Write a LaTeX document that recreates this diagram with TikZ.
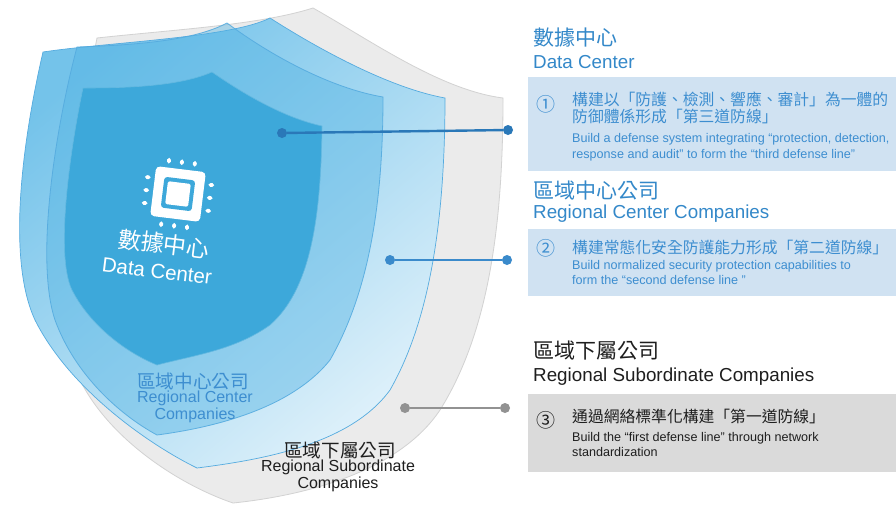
\documentclass[tikz,border=0pt]{standalone}
\usepackage{fontspec}
\setmainfont{Liberation Sans}
\newfontfamily\cjk{Noto Sans CJK TC}
\usetikzlibrary{calc}
\definecolor{coreblue}{HTML}{3DA8DA}
\definecolor{midblue}{HTML}{4FB2E3}
\definecolor{outertop}{HTML}{74C3EA}
\definecolor{outerbot}{HTML}{DDF0FA}
\definecolor{rimblue}{HTML}{55ABDF}
\definecolor{subgray}{HTML}{EBEBEB}
\definecolor{rimgray}{HTML}{D2D2D2}
\definecolor{headblue}{HTML}{3388C9}
\definecolor{textblue}{HTML}{3D8ED0}
\definecolor{boxblue}{HTML}{D0E2F2}
\definecolor{boxgray}{HTML}{DADADA}
\definecolor{linkdark}{HTML}{2A78B8}
\definecolor{linkmid}{HTML}{3A8ACB}
\definecolor{linkgray}{HTML}{929292}
\definecolor{inkblack}{HTML}{1E1E1E}
\tikzset{
  subshield/.style={fill=subgray,draw=rimgray,line width=0.8pt},
  outershield/.style={draw=rimblue,line width=0.7pt,top color=outertop,bottom color=outerbot,shading angle=40},
  midshield/.style={fill=midblue,fill opacity=0.42,draw=rimblue,draw opacity=0.9,line width=0.8pt},
  coreshield/.style={fill=coreblue,draw=coreblue!80!white,line width=0.6pt},
  chippin/.style={white,line width=3.8pt,line cap=round},
  headcn/.style={anchor=base west,inner sep=0pt,font=\cjk\fontsize{21}{21}\selectfont},
  headen/.style={anchor=base west,inner sep=0pt,font=\fontsize{18.8}{20}\selectfont},
  desccn/.style={anchor=base west,inner sep=0pt,font=\cjk\fontsize{15.8}{16}\selectfont},
  descen/.style={anchor=base west,inner sep=0pt,font=\fontsize{12.6}{14}\selectfont},
  descnum/.style={inner sep=0pt,font=\cjk\fontsize{19}{19}\selectfont},
  descbox/.style={anchor=north west,inner sep=0pt,minimum width=368pt,fill=#1},
  linkdot/.style={circle,inner sep=0pt,minimum size=10pt,fill=#1},
  link/.style={line width=2.4pt,draw=#1},
}

\begin{document}
\begin{tikzpicture}[x=1pt,y=-1pt]
  \fill[white] (0,0) rectangle (896,507);
  \useasboundingbox (0,0) rectangle (896,507);

  % Shields
  \path[subshield] (97,38) .. controls (170,30) and (260,25) .. (313,8)
    .. controls (370,40) and (440,90) .. (503,98)
    .. controls (503,220) and (490,330) .. (440,410)
    .. controls (400,470) and (310,495) .. (233,503)
    .. controls (180,485) and (110,440) .. (80,380)
    .. controls (55,320) and (75,150) .. (97,38) -- cycle;
  \path[outershield] (43,52) .. controls (110,42) and (230,38) .. (270,18)
    .. controls (320,50) and (390,88) .. (445,98)
    .. controls (445,220) and (430,320) .. (390,390)
    .. controls (350,445) and (260,460) .. (197,468)
    .. controls (150,445) and (70,390) .. (35,320)
    .. controls (5,255) and (25,130) .. (43,52) -- cycle;
  \path[midshield] (77,47) .. controls (140,45) and (195,40) .. (227,23)
    .. controls (270,55) and (330,88) .. (383,97)
    .. controls (383,200) and (370,290) .. (330,360)
    .. controls (290,410) and (210,428) .. (157,435)
    .. controls (120,415) and (75,375) .. (55,320)
    .. controls (35,260) and (55,130) .. (77,47) -- cycle;
  \path[coreshield] (83,88) .. controls (130,88) and (180,86) .. (212,72)
    .. controls (245,95) and (285,118) .. (322,126)
    .. controls (321,220) and (310,290) .. (270,325)
    .. controls (235,350) and (195,355) .. (157,365)
    .. controls (125,352) and (90,325) .. (72,290)
    .. controls (55,255) and (70,150) .. (83,88) -- cycle;

  % Chip
  \begin{scope}[shift={(178,194)},rotate=-7]
    \fill[white,rounded corners=4pt] (-25,-25) rectangle (25,25);
    \fill[coreblue,rounded corners=3pt] (-15.5,-15.5) rectangle (15.5,15.5);
    \fill[white,rounded corners=2pt] (-11.5,-11.5) rectangle (11.5,11.5);
    \draw[chippin] (-13,-31) -- (-13,-33);
    \draw[chippin] (0,-31) -- (0,-33);
    \draw[chippin] (13,-31) -- (13,-33);
    \draw[chippin] (-13,31) -- (-13,33);
    \draw[chippin] (0,31) -- (0,33);
    \draw[chippin] (13,31) -- (13,33);
    \draw[chippin] (-31,-13) -- (-33,-13);
    \draw[chippin] (-31,0) -- (-33,0);
    \draw[chippin] (-31,13) -- (-33,13);
    \draw[chippin] (31,-13) -- (33,-13);
    \draw[chippin] (31,0) -- (33,0);
    \draw[chippin] (31,13) -- (33,13);
  \end{scope}

  % Shield labels
  \node[white,rotate=-7,font=\cjk\fontsize{23}{23}\selectfont] (core-cn) at (164,244) {數據中心};
  \node[white,rotate=-7,font=\fontsize{20.5}{21}\selectfont] (core-en) at (157,271) {Data Center};
  \node[textblue,font=\cjk\fontsize{18.6}{19}\selectfont] (mid-cn) at (193,381) {區域中心公司};
  \node[textblue,font=\fontsize{16}{17}\selectfont,align=center] (mid-en) at (195,407) {Regional Center\\Companies};
  \node[inkblack,font=\cjk\fontsize{18.6}{19}\selectfont] (sub-cn) at (340,450) {區域下屬公司};
  \node[inkblack,font=\fontsize{16}{17}\selectfont,align=center] (sub-en) at (338,476) {Regional Subordinate\\Companies};

  % Boxes
  \node[descbox=boxblue,minimum height=94pt] (dc-box) at (528,77) {};
  \node[descbox=boxblue,minimum height=67pt] (rc-box) at (528,229) {};
  \node[descbox=boxgray,minimum height=78pt] (rs-box) at (528,394) {};

  % Connectors
  \node[linkdot=linkdark] (dc-a) at (282,133) {};
  \node[linkdot=linkdark] (dc-b) at (508,130) {};
  \node[linkdot=linkmid] (rc-a) at (390,260) {};
  \node[linkdot=linkmid] (rc-b) at (507,260) {};
  \node[linkdot=linkgray] (rs-a) at (405,408) {};
  \node[linkdot=linkgray] (rs-b) at (505,408) {};
  \draw[link=linkdark] (dc-a) -- (dc-b);
  \draw[link=linkmid] (rc-a) -- (rc-b);
  \draw[link=linkgray] (rs-a) -- (rs-b);

  % Texts
  \node[headcn,headblue] (dc-cn) at (533,45) {數據中心};
  \node[headen,headblue] (dc-en) at (533,68) {Data Center};
  \node[descnum,textblue] (dc-num) at (546,104) {①};
  \node[desccn,textblue] (dc-l1) at (572,105.5) {構建以「防護、檢測、響應、審計」為一體的};
  \node[desccn,textblue] (dc-l2) at (572,122) {防御體係形成「第三道防線」};
  \node[descen,textblue] (dc-l3) at (572,142) {Build a defense system integrating “protection, detection,};
  \node[descen,textblue] (dc-l4) at (572,158) {response and audit” to form the “third defense line”};

  \node[headcn,headblue] (rc-cn) at (533,198) {區域中心公司};
  \node[headen,headblue] (rc-en) at (533,218) {Regional Center Companies};
  \node[descnum,textblue] (rc-num) at (546,248) {②};
  \node[desccn,textblue] (rc-l1) at (572,253) {構建常態化安全防護能力形成「第二道防線」};
  \node[descen,textblue] (rc-l2) at (572,269) {Build normalized security protection capabilities to};
  \node[descen,textblue] (rc-l3) at (572,284) {form the “second defense line ”};

  \node[headcn,inkblack] (rs-cn) at (533,358) {區域下屬公司};
  \node[headen,inkblack] (rs-en) at (533,381) {Regional Subordinate Companies};
  \node[descnum,inkblack] (rs-num) at (546,420) {③};
  \node[desccn,inkblack] (rs-l1) at (572,422) {通過網絡標準化構建「第一道防線」};
  \node[descen,inkblack] (rs-l2) at (572,441) {Build the “first defense line” through network};
  \node[descen,inkblack] (rs-l3) at (572,456) {standardization};
\end{tikzpicture}
\end{document}
